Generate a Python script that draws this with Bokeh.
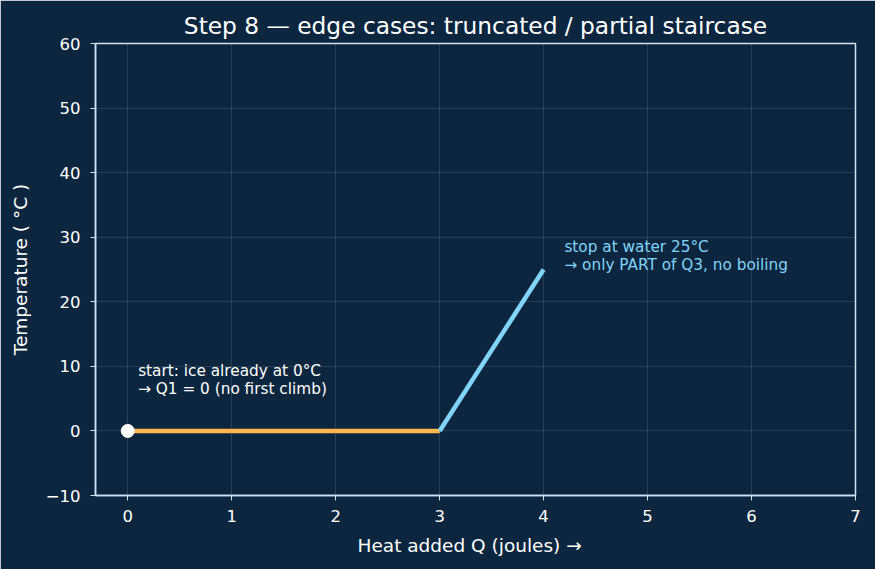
from bokeh.plotting import figure
from bokeh.models import FixedTicker, Range1d
from bokeh.embed import file_html
from bokeh.resources import INLINE
from bokeh.core.properties import value

# data
flat_q = [0, 3]
flat_t = [0, 0]
climb_q = [3, 4]
climb_t = [0, 25]
start_q = [0]
start_t = [0]
x_ticks = [0, 1, 2, 3, 4, 5, 6, 7]
y_ticks = [-10, 0, 10, 20, 30, 40, 50, 60]
note1 = "start: ice already at 0°C\n→ Q1 = 0 (no first climb)"
note2 = "stop at water 25°C\n→ only PART of Q3, no boiling"

BG = "#0c2640"
FG = "#ffffff"
SPINE = "#d0e2f2"
FONT = "DejaVu Sans"

p = figure(width=875, height=569, output_backend="svg", toolbar_location=None,
           x_range=Range1d(-0.31, 7), y_range=Range1d(-10, 60),
           min_border_left=95, min_border_right=20, min_border_top=43, min_border_bottom=74)
p.background_fill_color = BG
p.border_fill_color = BG
p.outline_line_color = SPINE
p.outline_line_width = 1.5

p.title.text = "Step 8 — edge cases: truncated / partial staircase"
p.title.text_color = FG
p.title.text_font = FONT
p.title.text_font_size = "23.3px"
p.title.text_font_style = "normal"
p.title.align = "center"
p.title.offset = 0
p.title.standoff = 10

for ax in (p.xaxis[0], p.yaxis[0]):
    ax.axis_line_color = SPINE
    ax.axis_line_width = 1.5
    ax.major_tick_line_color = SPINE
    ax.major_tick_in = 0
    ax.major_tick_out = 5
    ax.minor_tick_line_color = None
    ax.major_label_text_color = FG
    ax.major_label_text_font = FONT
    ax.major_label_text_font_size = "16.5px"
    ax.axis_label_text_color = FG
    ax.axis_label_text_font = FONT
    ax.axis_label_text_font_size = "18.5px"
    ax.axis_label_text_font_style = "normal"

p.xaxis.ticker = FixedTicker(ticks=x_ticks)
p.yaxis.ticker = FixedTicker(ticks=y_ticks)
p.yaxis.major_label_overrides = {-10: "−10"}
p.xaxis.axis_label = "Heat added  Q  (joules) →"
p.yaxis.axis_label = "Temperature ( °C )"
p.xaxis.major_label_standoff = 9
p.yaxis.major_label_standoff = 10
p.xaxis.axis_label_standoff = 10
p.yaxis.axis_label_standoff = 12

p.grid.grid_line_color = "#ffffff"
p.grid.grid_line_alpha = 0.15
p.grid.grid_line_width = 0.8

p.line(flat_q, flat_t, line_color="#ffb74d", line_width=4.5)
p.line(climb_q, climb_t, line_color="#81d4fa", line_width=4.5)
p.scatter(start_q, start_t, size=13, fill_color="#ffffff", line_color="#ffffff")

p.text(x=[0.1], y=[5.15], text=[note1], text_color=FG, text_font=value(FONT),
       text_font_size="15.3px", text_baseline="bottom", text_align="left", text_line_height=1.0)
p.text(x=[4.2], y=[24.3], text=[note2], text_color="#81d4fa", text_font=value(FONT),
       text_font_size="15.3px", text_baseline="bottom", text_align="left", text_line_height=1.0)

open("out.html", "w").write(file_html(p, INLINE))
